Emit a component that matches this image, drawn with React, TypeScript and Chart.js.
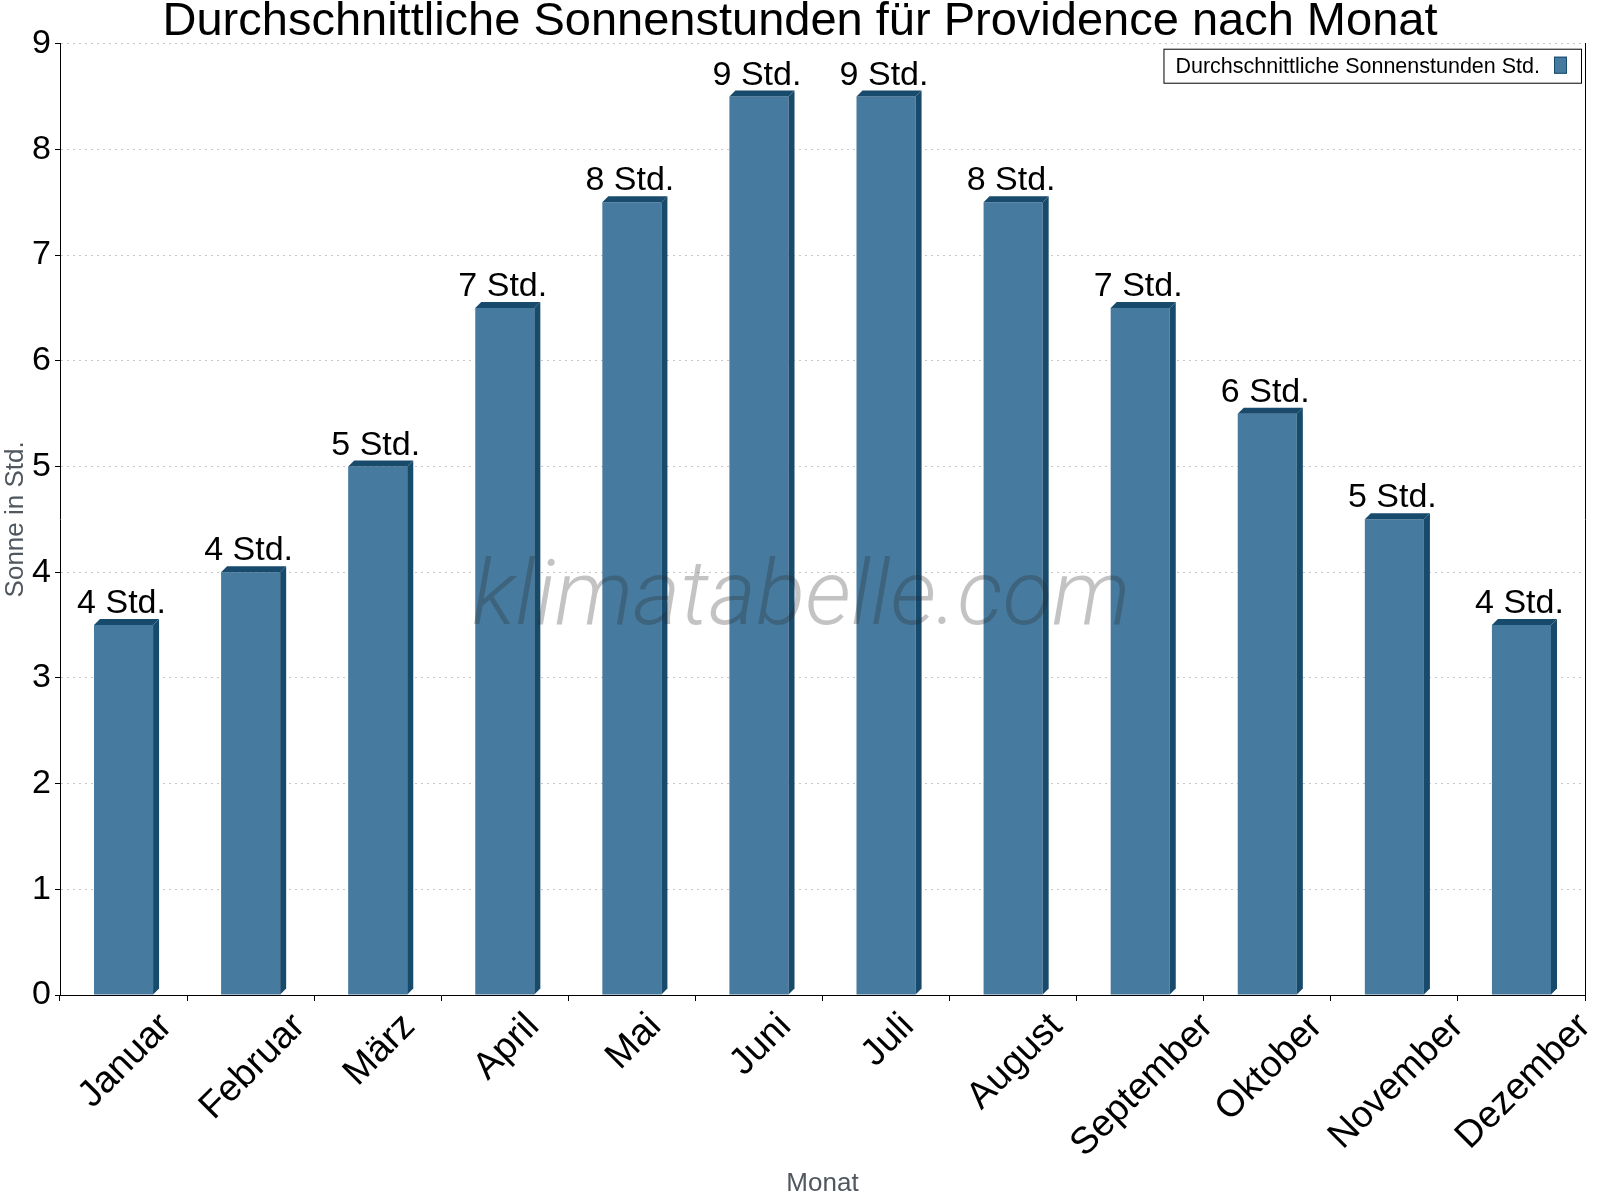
import React, { useEffect, useRef } from "react";
import { Chart, registerables, Plugin } from "chart.js";

Chart.register(...registerables);

const months = [
  "Januar",
  "Februar",
  "März",
  "April",
  "Mai",
  "Juni",
  "Juli",
  "August",
  "September",
  "Oktober",
  "November",
  "Dezember",
];

// Sonnenstunden pro Tag
const sunHours = [3.5, 4, 5, 6.5, 7.5, 8.5, 8.5, 7.5, 6.5, 5.5, 4.5, 3.5];

const yTicks = [0, 1, 2, 3, 4, 5, 6, 7, 8, 9];

const TITLE = "Durchschnittliche Sonnenstunden für Providence nach Monat";
const LEGEND_LABEL = "Durchschnittliche Sonnenstunden Std.";
const WATERMARK = "klimatabelle.com";

const FRONT = "#467b9f";
const DARK = "#184a6c";
const FONT = "'Liberation Sans', Arial, sans-serif";

// 3D Seiten + Deckel der Balken, Wasserzeichen, Werte
const barDecor: Plugin<"bar"> = {
  id: "barDecor",
  afterDatasetsDraw(chart) {
    const ctx = chart.ctx;
    const meta = chart.getDatasetMeta(0);
    const d = 6;
    ctx.save();
    ctx.fillStyle = DARK;
    meta.data.forEach((el: any) => {
      const { x, y, base, width } = el.getProps(["x", "y", "base", "width"], true);
      const l = x - width / 2;
      const r = x + width / 2;
      ctx.beginPath();
      ctx.moveTo(r, y);
      ctx.lineTo(r + d, y - d);
      ctx.lineTo(r + d, base - d);
      ctx.lineTo(r, base);
      ctx.closePath();
      ctx.fill();
      ctx.beginPath();
      ctx.moveTo(l, y);
      ctx.lineTo(l + d, y - d);
      ctx.lineTo(r + d, y - d);
      ctx.lineTo(r, y);
      ctx.closePath();
      ctx.fill();
    });

    const area = chart.chartArea;
    ctx.font = `italic 300 91px Roboto, 'Open Sans', sans-serif`;
    ctx.fillStyle = "rgba(40,40,40,0.28)";
    ctx.textAlign = "center";
    ctx.textBaseline = "alphabetic";
    ctx.fillText(
      WATERMARK,
      area.left + area.width * 0.486,
      area.top + area.height * 0.61
    );

    ctx.font = `34px ${FONT}`;
    ctx.fillStyle = "#000";
    meta.data.forEach((el: any, i) => {
      const { x, y } = el.getProps(["x", "y"], true);
      ctx.fillText(`${Math.round(sunHours[i])} Std.`, x - 2, y - 12);
    });
    ctx.restore();
  },
};

// gedrehte Monatsnamen, mittig unter der Kategorie
const monthLabels: Plugin<"bar"> = {
  id: "monthLabels",
  afterDraw(chart) {
    const ctx = chart.ctx;
    const xs: any = chart.scales.x;
    const size = 37.5;
    const top = chart.chartArea.bottom + 14;
    ctx.save();
    ctx.font = `${size}px ${FONT}`;
    ctx.fillStyle = "#000";
    ctx.textAlign = "center";
    ctx.textBaseline = "middle";
    months.forEach((m, i) => {
      const w = ctx.measureText(m).width;
      const cx = xs.getPixelForTick(i);
      const cy = top + (w + size * 0.72) * Math.SQRT1_2 * 0.5;
      ctx.save();
      ctx.translate(cx, cy);
      ctx.rotate(-Math.PI / 4);
      ctx.fillText(m, 0, size * 0.08);
      ctx.restore();
    });
    ctx.restore();
  },
};

// Legende rechts oben, Kästchen hinter dem Text
const boxLegend: Plugin<"bar"> = {
  id: "boxLegend",
  afterDraw(chart) {
    const ctx = chart.ctx;
    const area = chart.chartArea;
    ctx.save();
    ctx.font = `21.5px ${FONT}`;
    const tw = ctx.measureText(LEGEND_LABEL).width;
    const bw = 12 + tw + 14 + 13 + 14;
    const bh = 34;
    const bx = area.right - 4 - bw;
    const by = area.top + 5;
    ctx.fillStyle = "#fff";
    ctx.fillRect(bx, by, bw, bh);
    ctx.strokeStyle = "#000";
    ctx.lineWidth = 1;
    ctx.strokeRect(bx + 0.5, by + 0.5, bw, bh);
    ctx.fillStyle = "#000";
    ctx.textAlign = "left";
    ctx.textBaseline = "middle";
    ctx.fillText(LEGEND_LABEL, bx + 12, by + bh / 2 + 1);
    const sx = bx + 12 + tw + 14;
    ctx.fillStyle = FRONT;
    ctx.fillRect(sx, by + 8, 13, 17);
    ctx.strokeStyle = DARK;
    ctx.strokeRect(sx + 0.5, by + 8.5, 12, 16);
    ctx.restore();
  },
};

const App: React.FC = () => {
  const chartRef = useRef<HTMLCanvasElement>(null);

  useEffect(() => {
    document.body.style.margin = "0";
    if (!chartRef.current) return;
    const ctx = chartRef.current.getContext("2d");
    if (!ctx) return;

    const chart = new Chart(ctx, {
      type: "bar",
      data: {
        labels: months,
        datasets: [
          {
            label: LEGEND_LABEL,
            data: sunHours,
            backgroundColor: FRONT,
            borderWidth: 0,
            categoryPercentage: 1,
            barPercentage: 0.465,
          },
        ],
      },
      options: {
        responsive: false,
        animation: false,
        devicePixelRatio: 1,
        layout: { padding: 0 },
        plugins: {
          legend: { display: false },
          tooltip: { enabled: false },
          title: {
            display: true,
            text: TITLE,
            color: "#000",
            font: { family: FONT, size: 47, weight: "normal", lineHeight: 0.93 },
            padding: 0,
          },
        },
        scales: {
          x: {
            afterFit: (s: any) => {
              s.height = 205;
            },
            ticks: { display: false },
            grid: {
              display: true,
              drawOnChartArea: false,
              offset: true,
              tickLength: 6,
              tickColor: "#000",
              color: "#000",
            },
            border: { display: true, color: "#000", width: 1 },
            title: {
              display: true,
              text: "Monat",
              color: "#50575f",
              font: { family: FONT, size: 26, lineHeight: 1 },
              padding: 3,
            },
          },
          y: {
            min: 0,
            max: 9,
            afterFit: (s: any) => {
              s.width = 60;
            },
            afterBuildTicks: (s: any) => {
              s.ticks = yTicks.map((v) => ({ value: v }));
            },
            ticks: {
              color: "#000",
              font: { family: FONT, size: 34 },
              padding: 4,
            },
            grid: {
              color: "#c8c8c8",
              lineWidth: 1,
              tickLength: 5,
              tickColor: "#000",
            },
            border: { display: true, color: "#000", width: 1, dash: [2, 4] },
            title: {
              display: true,
              text: "Sonne in Std.",
              color: "#50575f",
              font: { family: FONT, size: 26, lineHeight: 1 },
              padding: 3,
            },
          },
          y2: {
            position: "right",
            display: true,
            min: 0,
            max: 9,
            afterFit: (s: any) => {
              s.width = 15;
            },
            ticks: { display: false },
            grid: { display: false },
            border: { display: true, color: "#000", width: 1 },
          },
        },
      },
      plugins: [barDecor, monthLabels, boxLegend],
    });

    return () => chart.destroy();
  }, []);

  return <canvas ref={chartRef} width={1600} height={1200}></canvas>;
};

export default App;
